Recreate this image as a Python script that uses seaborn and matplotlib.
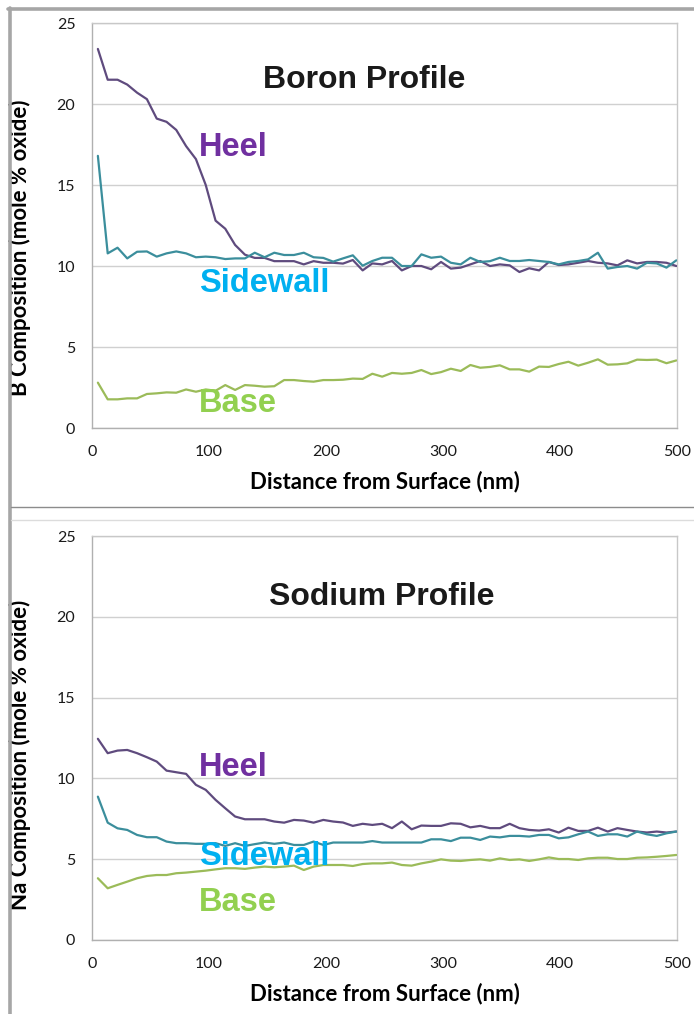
import numpy as np
import pandas as pd
import matplotlib
matplotlib.use("Agg")
import matplotlib.pyplot as plt
from matplotlib.lines import Line2D
import seaborn as sns

# ---------------- data ----------------
depth_nm = [5.0, 13.4, 21.8, 30.1, 38.5, 46.9, 55.3, 63.7, 72.0, 80.4,
            88.8, 97.2, 105.6, 113.9, 122.3, 130.7, 139.1, 147.5, 155.8, 164.2,
            172.6, 181.0, 189.4, 197.7, 206.1, 214.5, 222.9, 231.3, 239.6, 248.0,
            256.4, 264.8, 273.2, 281.5, 289.9, 298.3, 306.7, 315.1, 323.4, 331.8,
            340.2, 348.6, 357.0, 365.3, 373.7, 382.1, 390.5, 398.9, 407.2, 415.6,
            424.0, 432.4, 440.8, 449.1, 457.5, 465.9, 474.3, 482.7, 491.0, 499.4]

boron_heel = [23.4, 21.5, 21.5, 21.2, 20.7, 20.3, 19.1, 18.9, 18.4, 17.4,
              16.6, 15.0, 12.8, 12.3, 11.3, 10.7, 10.5, 10.5, 10.3, 10.3,
              10.3, 10.1, 10.3, 10.2, 10.2, 10.15, 10.37, 9.73, 10.16, 10.1,
              10.31, 9.73, 10.0, 10.0, 9.8, 10.25, 9.84, 9.9, 10.1, 10.31,
              10.0, 10.1, 10.04, 9.63, 9.86, 9.73, 10.25, 10.06, 10.1, 10.2,
              10.31, 10.2, 10.16, 10.04, 10.35, 10.16, 10.25, 10.25, 10.2, 10.0]

boron_sidewall = [16.8, 10.78, 11.13, 10.47, 10.88, 10.9, 10.58, 10.78, 10.9, 10.78,
                  10.54, 10.58, 10.54, 10.43, 10.47, 10.47, 10.82, 10.54, 10.82, 10.68,
                  10.68, 10.82, 10.54, 10.5, 10.27, 10.47, 10.66, 10.02, 10.31, 10.51,
                  10.51, 10.0, 10.0, 10.72, 10.51, 10.58, 10.2, 10.1, 10.51, 10.25,
                  10.3, 10.51, 10.31, 10.31, 10.37, 10.31, 10.25, 10.1, 10.25, 10.31,
                  10.41, 10.82, 9.84, 9.94, 10.0, 9.84, 10.2, 10.16, 9.9, 10.35]

boron_base = [2.8, 1.77, 1.77, 1.83, 1.83, 2.1, 2.14, 2.2, 2.18, 2.38,
              2.24, 2.38, 2.3, 2.65, 2.35, 2.65, 2.61, 2.55, 2.58, 2.96,
              2.96, 2.9, 2.86, 2.96, 2.96, 2.98, 3.05, 3.03, 3.35, 3.17,
              3.4, 3.35, 3.4, 3.58, 3.33, 3.45, 3.66, 3.52, 3.89, 3.72,
              3.77, 3.87, 3.62, 3.62, 3.48, 3.79, 3.77, 3.95, 4.09, 3.85,
              4.03, 4.24, 3.91, 3.93, 3.99, 4.22, 4.2, 4.22, 4.0, 4.17]

sodium_heel = [12.45, 11.56, 11.72, 11.76, 11.56, 11.31, 11.04, 10.48, 10.38, 10.28,
               9.6, 9.29, 8.67, 8.15, 7.64, 7.47, 7.47, 7.47, 7.33, 7.26,
               7.43, 7.39, 7.26, 7.43, 7.33, 7.27, 7.06, 7.19, 7.12, 7.19,
               6.92, 7.33, 6.85, 7.08, 7.06, 7.06, 7.22, 7.19, 6.97, 7.06,
               6.92, 6.92, 7.19, 6.92, 6.81, 6.77, 6.85, 6.65, 6.95, 6.75,
               6.75, 6.95, 6.71, 6.92, 6.81, 6.71, 6.65, 6.71, 6.65, 6.71]

sodium_sidewall = [8.87, 7.26, 6.91, 6.81, 6.5, 6.36, 6.36, 6.09, 5.99, 5.99,
                   5.95, 5.95, 5.99, 5.82, 5.99, 5.82, 5.93, 6.03, 5.95, 6.03,
                   5.88, 5.88, 6.09, 5.88, 6.03, 6.03, 6.03, 6.03, 6.12, 6.03,
                   6.03, 6.03, 6.03, 6.03, 6.23, 6.23, 6.12, 6.33, 6.33, 6.19,
                   6.4, 6.35, 6.44, 6.44, 6.4, 6.5, 6.5, 6.29, 6.35, 6.54,
                   6.71, 6.44, 6.54, 6.54, 6.4, 6.71, 6.54, 6.44, 6.6, 6.71]

sodium_base = [3.82, 3.2, 3.41, 3.61, 3.82, 3.96, 4.02, 4.02, 4.13, 4.17,
               4.23, 4.29, 4.37, 4.44, 4.44, 4.4, 4.48, 4.54, 4.5, 4.54,
               4.6, 4.33, 4.54, 4.64, 4.64, 4.64, 4.58, 4.7, 4.74, 4.74,
               4.79, 4.64, 4.6, 4.74, 4.85, 4.99, 4.91, 4.89, 4.95, 4.99,
               4.91, 5.05, 4.95, 4.99, 4.89, 4.99, 5.11, 5.01, 5.01, 4.95,
               5.05, 5.09, 5.09, 5.01, 5.01, 5.09, 5.11, 5.15, 5.2, 5.26]

series_names = ["Heel", "Sidewall", "Base"]
x_ticks = [0, 100, 200, 300, 400, 500]
y_ticks = [0, 5, 10, 15, 20, 25]

# ---------------- style ----------------
sns.set_theme(style="white")
plt.rcParams["font.family"] = ["Lato", "DejaVu Sans"]

line_colors = {"Heel": "#5f4b7e", "Sidewall": "#3b8e9c", "Base": "#9bbb59"}
label_colors = {"Heel": "#7030a0", "Sidewall": "#00b0f0", "Base": "#92d050"}

fig = plt.figure(figsize=(6.94, 10.14), dpi=100)

panels = [
    dict(rect=[0.1326, 0.5779, 0.8429, 0.3994],
         values=[boron_heel, boron_sidewall, boron_base],
         title="Boron Profile", title_xy=(233, 21.5),
         ylabel="B Composition (mole % oxide)", ylabel_y=0.445,
         label_y={"Heel": 17.3, "Sidewall": 8.95, "Base": 1.5}),
    dict(rect=[0.1326, 0.0730, 0.8429, 0.3984],
         values=[sodium_heel, sodium_sidewall, sodium_base],
         title="Sodium Profile", title_xy=(248, 21.2),
         ylabel="Na Composition (mole % oxide)", ylabel_y=0.458,
         label_y={"Heel": 10.65, "Sidewall": 5.15, "Base": 2.35}),
]

for p in panels:
    ax = fig.add_axes(p["rect"])
    frames = []
    for name, vals in zip(series_names, p["values"]):
        frames.append(pd.DataFrame({"depth": depth_nm, "comp": vals, "series": name}))
    df = pd.concat(frames, ignore_index=True)
    sns.lineplot(data=df, x="depth", y="comp", hue="series", palette=line_colors,
                 hue_order=series_names, linewidth=1.6, legend=False, ax=ax,
                 estimator=None, sort=False, zorder=3)
    ax.set_xlim(0, 500)
    ax.set_ylim(0, 25)
    ax.set_xticks(x_ticks)
    ax.set_yticks(y_ticks)
    ax.yaxis.grid(True, color="#d0d0d0", linewidth=1.0)
    ax.xaxis.grid(False)
    ax.set_axisbelow(True)
    for s in ax.spines.values():
        s.set_color("#c8c8c8")
        s.set_linewidth(1.0)
    ax.spines["left"].set_color("#b0b0b0")
    ax.spines["bottom"].set_color("#b0b0b0")
    ax.tick_params(axis="both", which="major", direction="out", length=4,
                   width=1.0, color="#b0b0b0", labelsize=11.5, labelcolor="#1a1a1a")
    ax.tick_params(axis="x", pad=8)
    ax.tick_params(axis="y", pad=8)
    ax.set_xlabel("Distance from Surface (nm)", fontsize=16, fontweight="bold",
                  color="#000000")
    ax.set_ylabel(p["ylabel"], fontsize=16, fontweight="bold", color="#000000")
    ax.xaxis.set_label_coords(0.5, -0.105)
    ax.yaxis.set_label_coords(-0.104, p["ylabel_y"])
    ax.text(p["title_xy"][0], p["title_xy"][1], p["title"], ha="center", va="center",
            fontsize=23, fontweight="bold", color="#1a1a1a",
            family=["Liberation Sans", "DejaVu Sans"], zorder=5)
    for name in series_names:
        ax.text(91.5, p["label_y"][name], name, ha="left", va="center",
                fontsize=23.5, fontweight="bold", color=label_colors[name],
                family=["Liberation Sans", "DejaVu Sans"], zorder=5)

# frame decorations of the original slide
W, H = 694.0, 1014.0
fig.add_artist(Line2D([8 / W, 1.0], [1 - 8.5 / H, 1 - 8.5 / H], transform=fig.transFigure,
                      color="#a6a6a6", linewidth=2.6))
fig.add_artist(Line2D([9.5 / W, 9.5 / W], [0.0, 1 - 7.5 / H], transform=fig.transFigure,
                      color="#a6a6a6", linewidth=2.6))
fig.add_artist(Line2D([11 / W, 1.0], [1 - 507 / H, 1 - 507 / H], transform=fig.transFigure,
                      color="#8c8c8c", linewidth=1.0))
fig.add_artist(Line2D([11 / W, 1.0], [1 - 520 / H, 1 - 520 / H], transform=fig.transFigure,
                      color="#dcdcdc", linewidth=1.0))

fig.savefig("out.png", dpi=100, facecolor="white")
